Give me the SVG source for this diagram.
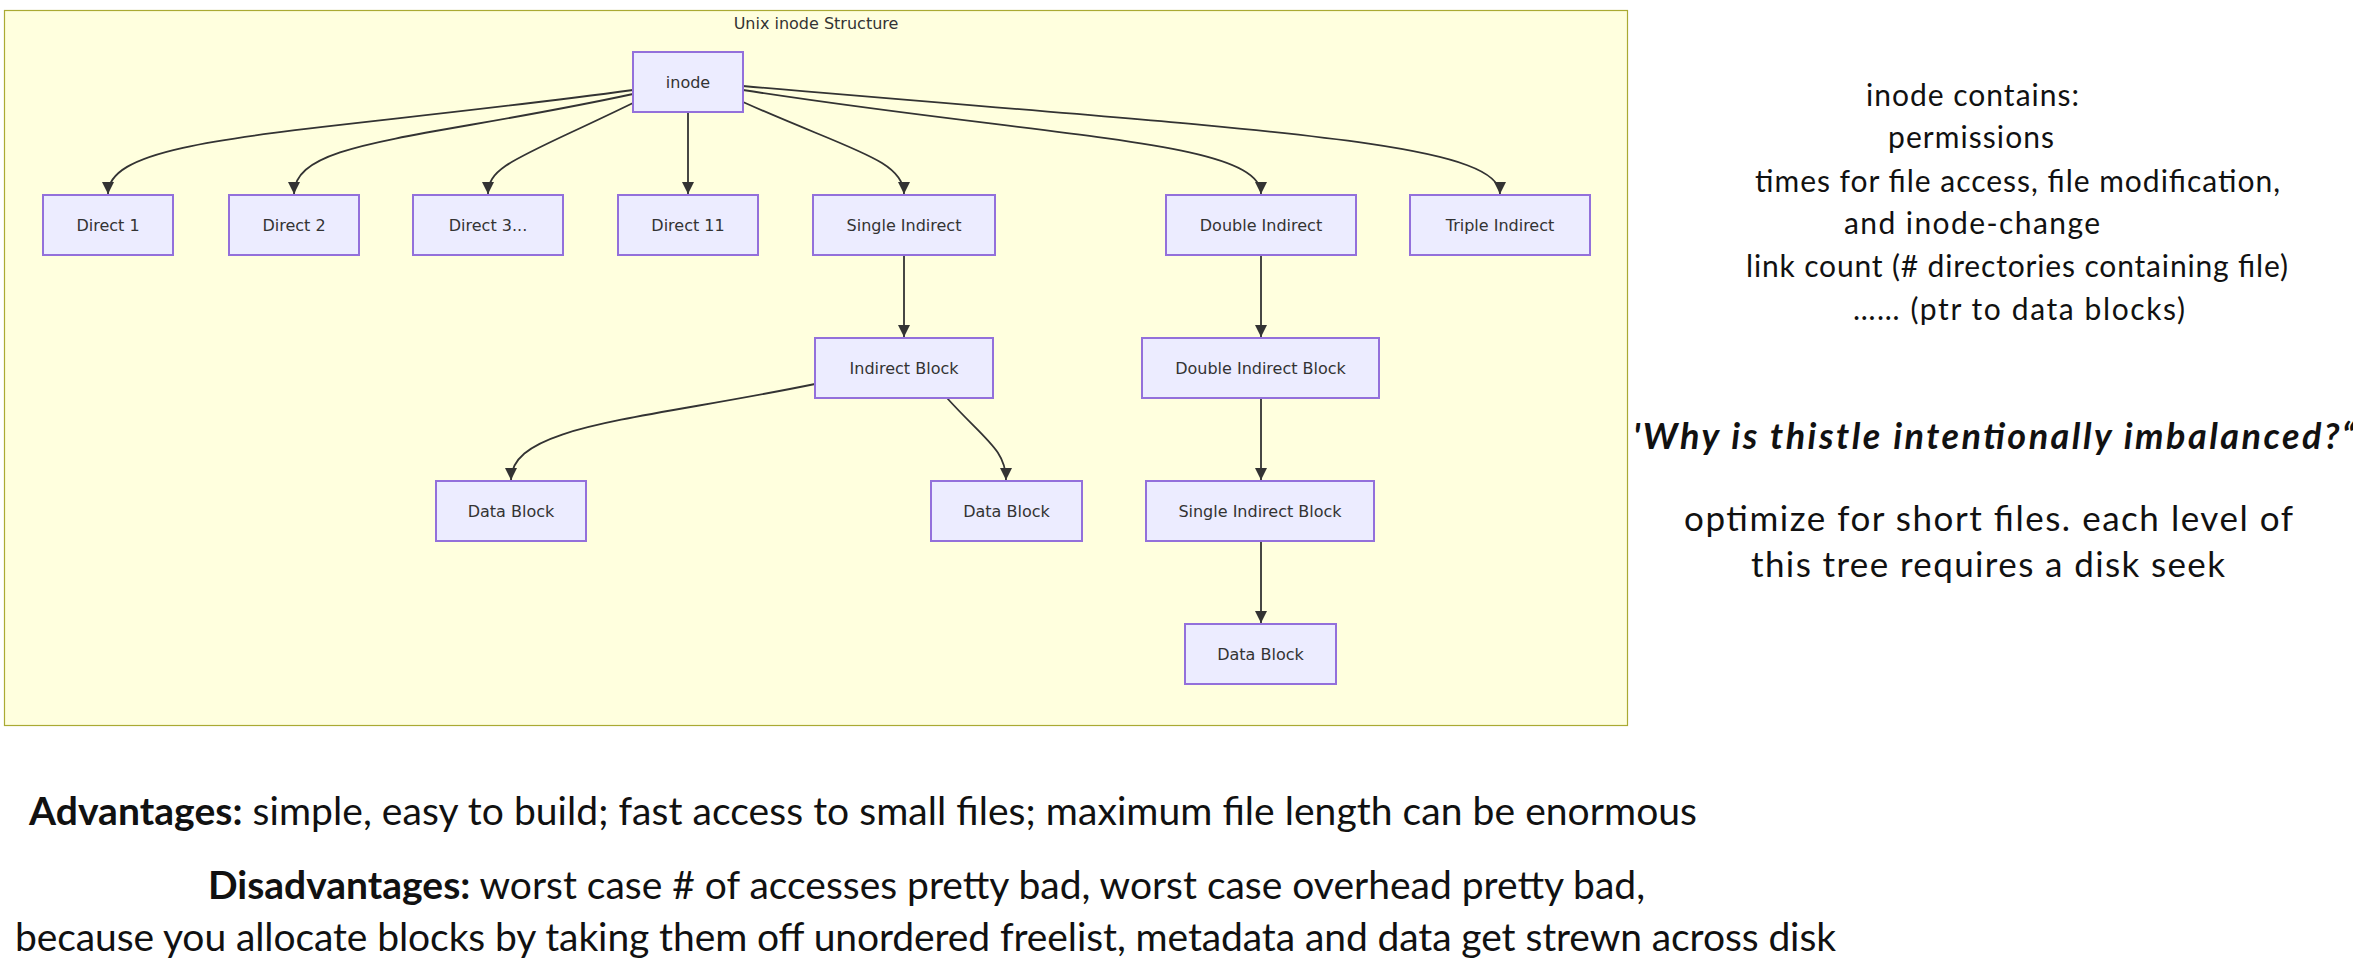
<svg xmlns="http://www.w3.org/2000/svg" width="2353" height="963" viewBox="0 0 2353 963">
<style>
.node rect{fill:#ECECFF;stroke:#9370DB;stroke-width:2}
.node text{font-family:"DejaVu Sans",sans-serif;font-size:16px;fill:#333;text-anchor:middle}
.edge{fill:none;stroke:#333;stroke-width:1.8}
.cl{fill:#ffffde;stroke:#aaaa33;stroke-width:1.2}
.ttl{font-family:"DejaVu Sans",sans-serif;font-size:16px;fill:#333;text-anchor:middle}
.note{font-family:Lato,"Noto Sans",sans-serif;fill:#111}
.r1{font-size:30px}
.q{font-size:36px;font-weight:bold;font-style:italic}
.r2{font-size:35px}
.b{font-size:39px}
.bb{font-weight:bold}
</style>
<defs>
<marker id="ah" markerUnits="userSpaceOnUse" viewBox="0 0 10 10" refX="10" refY="5" markerWidth="12" markerHeight="12" orient="auto">
<path d="M0,0 L10,5 L0,10 z" fill="#333"/>
</marker>
</defs>
<rect width="2353" height="963" fill="#fff"/>
<g id="cluster">
<rect class="cl" x="4.5" y="10.5" width="1623" height="715"/>
<text class="ttl" x="816" y="29">Unix inode Structure</text>
</g>
<g id="edges">
<path class="edge" marker-end="url(#ah)" d="M633,90 C300,135 108,135 108,194"/>
<path class="edge" marker-end="url(#ah)" d="M633,94 C420,140 294,140 294,194"/>
<path class="edge" marker-end="url(#ah)" d="M633,103 C520,158 488,165 488,194"/>
<path class="edge" marker-end="url(#ah)" d="M688,112 L688,194"/>
<path class="edge" marker-end="url(#ah)" d="M743,102 C850,150 904,160 904,194"/>
<path class="edge" marker-end="url(#ah)" d="M743,90 C1050,138 1261,140 1261,194"/>
<path class="edge" marker-end="url(#ah)" d="M743,86 C1250,130 1500,140 1500,194"/>
<path class="edge" marker-end="url(#ah)" d="M904,255 L904,337"/>
<path class="edge" marker-end="url(#ah)" d="M1261,255 L1261,337"/>
<path class="edge" marker-end="url(#ah)" d="M815,384 C640,420 511,425 511,480"/>
<path class="edge" marker-end="url(#ah)" d="M947,398 C985,440 1006,450 1006,480"/>
<path class="edge" marker-end="url(#ah)" d="M1261,398 L1261,480"/>
<path class="edge" marker-end="url(#ah)" d="M1261,541 L1261,623"/>
</g>
<g id="inode" class="node"><rect x="633" y="52" width="110" height="60"/><text x="688" y="88">inode</text></g>
<g id="direct1" class="node"><rect x="43" y="195" width="130" height="60"/><text x="108" y="231">Direct 1</text></g>
<g id="direct2" class="node"><rect x="229" y="195" width="130" height="60"/><text x="294" y="231">Direct 2</text></g>
<g id="direct3" class="node"><rect x="413" y="195" width="150" height="60"/><text x="488" y="231">Direct 3...</text></g>
<g id="direct11" class="node"><rect x="618" y="195" width="140" height="60"/><text x="688" y="231">Direct 11</text></g>
<g id="single" class="node"><rect x="813" y="195" width="182" height="60"/><text x="904" y="231">Single Indirect</text></g>
<g id="double" class="node"><rect x="1166" y="195" width="190" height="60"/><text x="1261" y="231">Double Indirect</text></g>
<g id="triple" class="node"><rect x="1410" y="195" width="180" height="60"/><text x="1500" y="231">Triple Indirect</text></g>
<g id="indblock" class="node"><rect x="815" y="338" width="178" height="60"/><text x="904" y="374">Indirect Block</text></g>
<g id="dblblock" class="node"><rect x="1142" y="338" width="237" height="60"/><text x="1260.5" y="374">Double Indirect Block</text></g>
<g id="data1" class="node"><rect x="436" y="481" width="150" height="60"/><text x="511" y="517">Data Block</text></g>
<g id="data2" class="node"><rect x="931" y="481" width="151" height="60"/><text x="1006.5" y="517">Data Block</text></g>
<g id="sngblock" class="node"><rect x="1146" y="481" width="228" height="60"/><text x="1260" y="517">Single Indirect Block</text></g>
<g id="data3" class="node"><rect x="1185" y="624" width="151" height="60"/><text x="1260.5" y="660">Data Block</text></g>
<g id="notes">
<text class="note r1" x="1866" y="106" textLength="213">inode contains:</text>
<text class="note r1" x="1888" y="148" textLength="166">permissions</text>
<text class="note r1" x="1755" y="192" textLength="525">times for file access, file modification,</text>
<text class="note r1" x="1844" y="234" textLength="256">and inode-change</text>
<text class="note r1" x="1746" y="277" textLength="542">link count (# directories containing file)</text>
<text class="note r1" x="1853" y="320" textLength="332">…… (ptr to data blocks)</text>
<text class="note q" x="1633" y="449" textLength="722">'Why is thistle intentionally imbalanced?“</text>
<text class="note r2" x="1684" y="531" textLength="609">optimize for short files. each level of</text>
<text class="note r2" x="1751" y="577" textLength="474">this tree requires a disk seek</text>
<text class="note b" x="29" y="825" textLength="1668"><tspan class="bb">Advantages:</tspan> simple, easy to build; fast access to small files; maximum file length can be enormous</text>
<text class="note b" x="208" y="899" textLength="1437"><tspan class="bb">Disadvantages:</tspan> worst case # of accesses pretty bad, worst case overhead pretty bad,</text>
<text class="note b" x="15" y="951" textLength="1821">because you allocate blocks by taking them off unordered freelist, metadata and data get strewn across disk</text>
</g>
</svg>
